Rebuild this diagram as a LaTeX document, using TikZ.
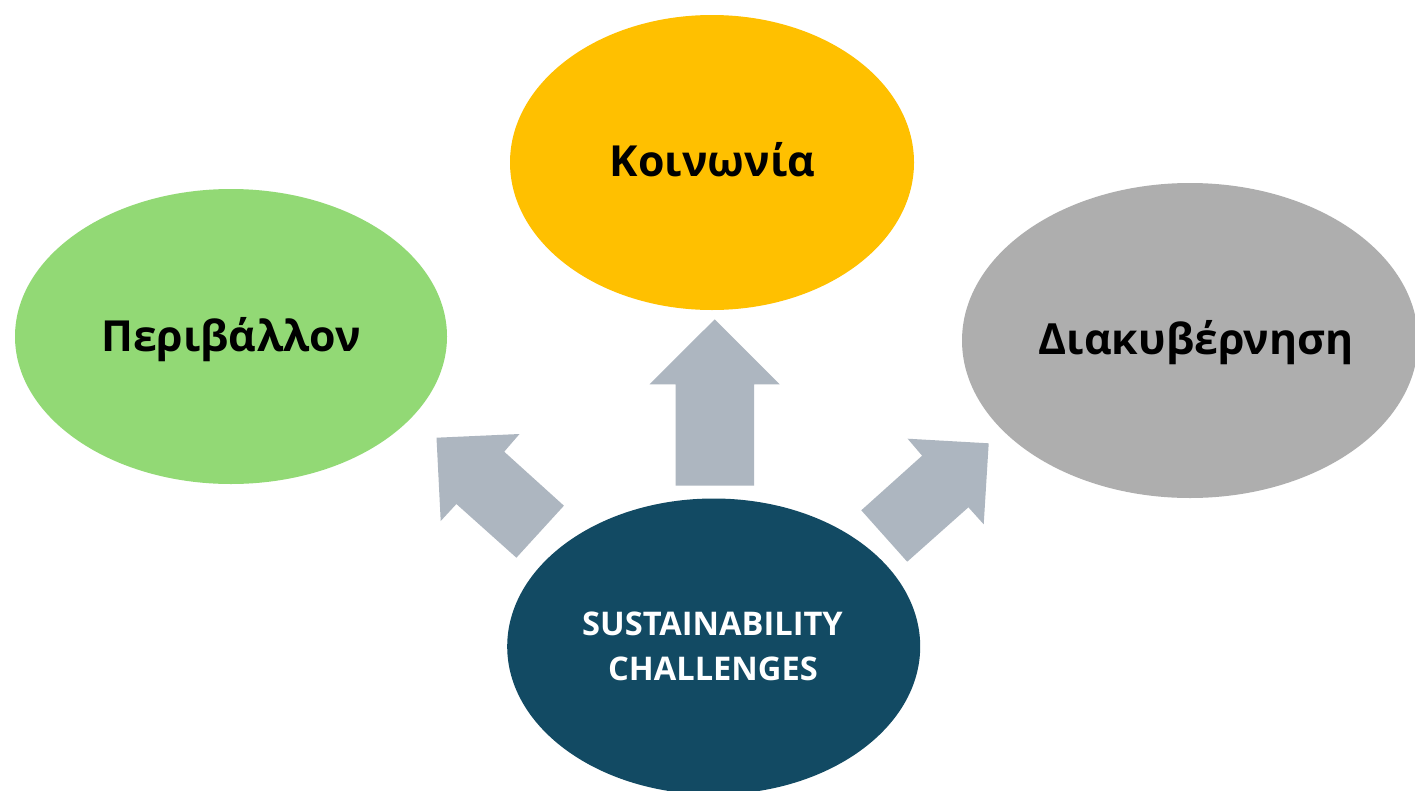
\documentclass[tikz,border=0pt]{standalone}
\usepackage{fontspec}
\setmainfont{Open Sans}
\usetikzlibrary{shapes.geometric}
\definecolor{cyellow}{HTML}{FFC000}
\definecolor{cgreen}{HTML}{92D975}
\definecolor{cgray}{HTML}{AEAEAE}
\definecolor{cteal}{HTML}{124A63}
\definecolor{carrow}{HTML}{ADB6C0}
\begin{document}
\begin{tikzpicture}[x=1pt,y=-1pt,
  blob/.style={ellipse, inner sep=0pt, draw=none},
  bigtxt/.style={anchor=base, inner sep=0pt, font=\fontsize{42.8}{50}\selectfont\bfseries, text=black},
  smalltxt/.style={anchor=base, inner sep=0pt, font=\fontsize{32.6}{45}\selectfont\bfseries, text=white},
  blockarrow/.style={fill=carrow, draw=none}]
\useasboundingbox[fill=white] (0,0) rectangle (1415,790);
% ellipses
\node[blob, fill=cyellow, minimum width=404pt, minimum height=295pt] (soc) at (712,162.5) {};
\node[blob, fill=cgreen, minimum width=432pt, minimum height=295pt] (env) at (231,336.5) {};
\node[blob, fill=cgray, minimum width=456pt, minimum height=315pt] (gov) at (1190,340.5) {};
\node[blob, fill=cteal, minimum width=413pt, minimum height=296pt] (sus) at (713.7,646.5) {};
% labels
\node[bigtxt] (soct) at (712.5,176.7) {Κοινωνία};
\node[bigtxt] (envt) at (231,351.7) {Περιβάλλον};
\node[bigtxt] (govt) at (1196,354.5) {Διακυβέρνηση};
\node[smalltxt] (sust1) at (712.5,635) {SUSTAINABILITY};
\node[smalltxt] (sust2) at (713,680) {CHALLENGES};
% block arrows
\fill[blockarrow] (714.7,319.3) -- (779.7,384.3) -- (754.1,384.3) -- (754.1,485.7)
  -- (675.6,485.7) -- (675.6,384.3) -- (649.6,384.3) -- cycle;
\fill[blockarrow] (436.5,437.7) -- (519.5,434) -- (504.2,451.7) -- (563.9,505.7)
  -- (516.4,557.7) -- (456.4,504) -- (440.7,521) -- cycle;
\fill[blockarrow] (988.7,443.3) -- (983.7,524.3) -- (968.4,507.3) -- (907.2,561.7)
  -- (861.3,510.3) -- (922.1,455.7) -- (907.6,438.7) -- cycle;
\end{tikzpicture}
\end{document}
